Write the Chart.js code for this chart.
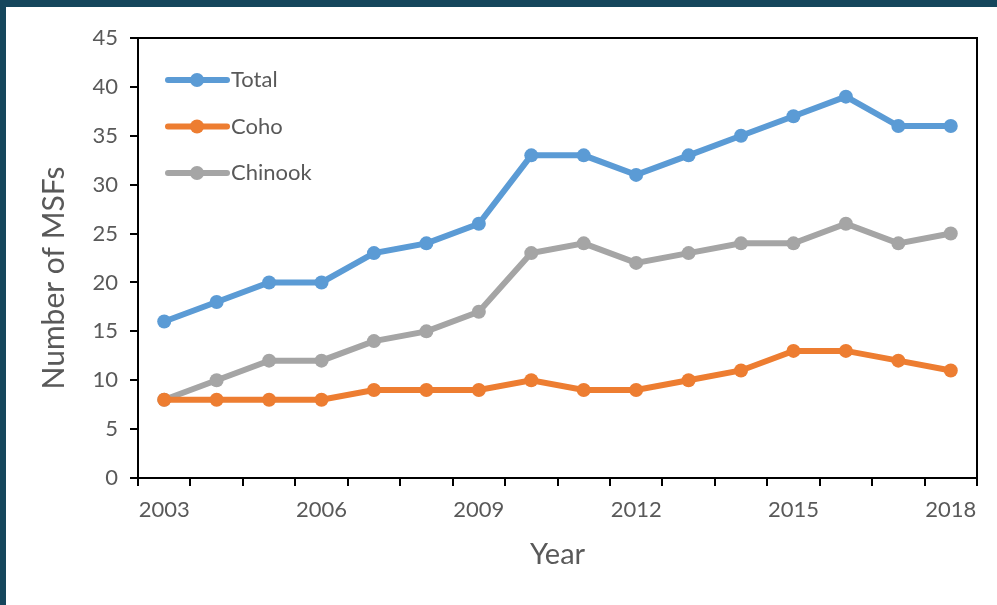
<!DOCTYPE html>
<html>
<head>
<meta charset="utf-8">
<script src="https://cdn.jsdelivr.net/npm/chart.js@4"></script>
<style>
  html, body { margin: 0; padding: 0; background: #ffffff; }
  body { width: 997px; height: 605px; overflow: hidden; }
  .frame {
    position: absolute; left: 0; top: 0;
    width: 991px; height: 598px;
    border-top: 7px solid #15465c;
    border-left: 6px solid #15465c;
    background: #ffffff;
  }
  #wrap { position: absolute; left: 6px; top: 7px; width: 991px; height: 598px; }
</style>
</head>
<body>
<div class="frame"></div>
<div id="wrap"><canvas id="chart" width="991" height="598"></canvas></div>
<script>
// Marine stewardship counts per year
const years = ['2003','2004','2005','2006','2007','2008','2009','2010','2011','2012','2013','2014','2015','2016','2017','2018'];
const totalCounts   = [16, 18, 20, 20, 23, 24, 26, 33, 33, 31, 33, 35, 37, 39, 36, 36];
const cohoCounts    = [8, 8, 8, 8, 9, 9, 9, 10, 9, 9, 10, 11, 13, 13, 12, 11];
const chinookCounts = [8, 10, 12, 12, 14, 15, 17, 23, 24, 22, 23, 24, 24, 26, 24, 25];
const yTicks = [0, 5, 10, 15, 20, 25, 30, 35, 40, 45];
const yTitle = 'Number of MSFs';

const textGray = '#595959';
const fontFamily = 'Lato, "Open Sans", sans-serif';

// Frame around the whole plotting area (top and right edges)
const boxPlugin = {
  id: 'plotBox',
  afterDraw(chart) {
    const {ctx, chartArea: a} = chart;
    ctx.save();
    ctx.strokeStyle = '#000';
    ctx.lineWidth = 2;
    ctx.beginPath();
    ctx.moveTo(a.left - 8, a.top);
    ctx.lineTo(a.right, a.top);
    ctx.lineTo(a.right, a.bottom + 8);
    ctx.stroke();
    ctx.restore();
  }
};

// Vertical axis title, sitting slightly below the middle of the plot
const yTitlePlugin = {
  id: 'yTitle',
  afterDraw(chart) {
    const {ctx, chartArea: a} = chart;
    ctx.save();
    ctx.translate(a.left - 84, (a.top + a.bottom) / 2 + 20);
    ctx.rotate(-Math.PI / 2);
    ctx.fillStyle = textGray;
    ctx.font = '30px ' + fontFamily;
    ctx.textAlign = 'center';
    ctx.textBaseline = 'middle';
    ctx.fillText(yTitle, 0, 0);
    ctx.restore();
  }
};

// Legend drawn inside the plot, upper-left corner
const innerLegend = {
  id: 'innerLegend',
  afterDraw(chart) {
    const {ctx, chartArea: a} = chart;
    ctx.save();
    chart.data.datasets.forEach((ds, i) => {
      const y = a.top + 42 + i * 46.5;
      const x0 = a.left + 30, x1 = a.left + 89, xm = a.left + 59;
      ctx.strokeStyle = ds.borderColor;
      ctx.lineWidth = 6;
      ctx.lineCap = 'round';
      ctx.beginPath();
      ctx.moveTo(x0, y);
      ctx.lineTo(x1, y);
      ctx.stroke();
      ctx.fillStyle = ds.borderColor;
      ctx.beginPath();
      ctx.arc(xm, y, 7, 0, Math.PI * 2);
      ctx.fill();
      ctx.fillStyle = textGray;
      ctx.font = '22px ' + fontFamily;
      ctx.textBaseline = 'middle';
      ctx.textAlign = 'left';
      ctx.fillText(ds.label, a.left + 93, y);
    });
    ctx.restore();
  }
};

function series(label, data, color) {
  return {
    label, data,
    borderColor: color,
    backgroundColor: color,
    borderWidth: 6,
    pointRadius: 7,
    pointHoverRadius: 7,
    pointBorderWidth: 0,
    pointBackgroundColor: color,
    tension: 0,
    fill: false
  };
}

new Chart(document.getElementById('chart'), {
  type: 'line',
  data: {
    labels: years,
    datasets: [
      series('Total', totalCounts, '#5b9bd5'),
      series('Coho', cohoCounts, '#ed7d31'),
      series('Chinook', chinookCounts, '#a5a5a5')
    ]
  },
  options: {
    responsive: false,
    animation: false,
    layout: { padding: { top: 31, right: 20, left: 0, bottom: 27 } },
    plugins: { legend: { display: false }, tooltip: { enabled: false } },
    scales: {
      x: {
        type: 'category',
        offset: true,
        grid: { offset: true, drawOnChartArea: false, drawTicks: true, tickLength: 8, color: '#000', lineWidth: 2 },
        border: { display: true, color: '#000', width: 2 },
        ticks: {
          autoSkip: false, maxRotation: 0, padding: 11,
          color: textGray, font: { family: fontFamily, size: 22 },
          callback: (v, i) => (i % 3 === 0 ? years[i] : '')
        },
        title: { display: true, text: 'Year', color: textGray, font: { family: fontFamily, size: 29 }, padding: { top: 0, bottom: 6 } },
        afterFit: s => { s.height = 100; }
      },
      y: {
        min: 0, max: 45,
        afterBuildTicks: s => { s.ticks = yTicks.map(v => ({ value: v })); },
        grid: { drawOnChartArea: false, drawTicks: true, tickLength: 8, color: '#000', lineWidth: 2 },
        border: { display: true, color: '#000', width: 2 },
        ticks: { padding: 12, color: textGray, font: { family: fontFamily, size: 22 } },
        afterFit: s => { s.width = 132; }
      }
    }
  },
  plugins: [boxPlugin, yTitlePlugin, innerLegend]
});
</script>
</body>
</html>
